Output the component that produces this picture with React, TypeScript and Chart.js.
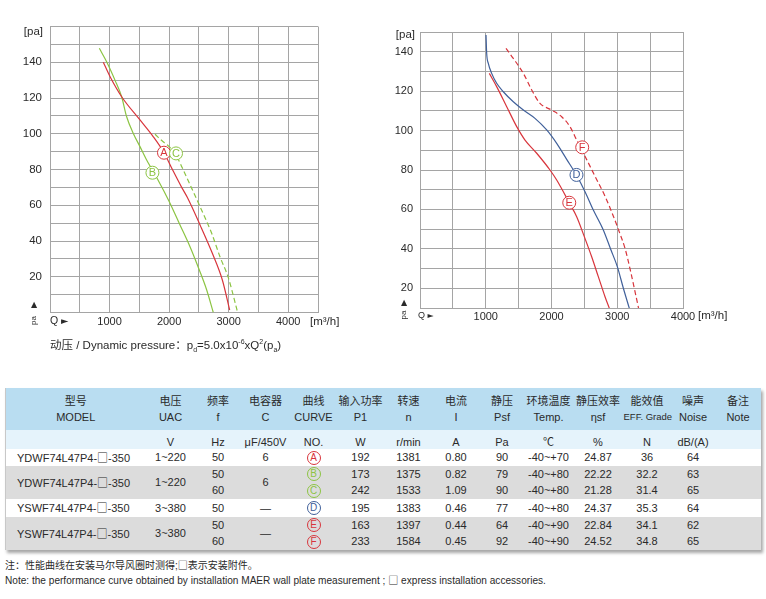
import React, { useEffect, useRef } from 'react';
import { Chart, registerables } from 'chart.js';

Chart.register(...registerables);

const RED = '#d8353c';
const GREEN = '#8cc443';
const BLUE = '#40609a';
const GRID = '#a5a5a5';
const TXT = '#2a2a2a';
const FONT = '"Liberation Sans", Arial, "Noto Sans CJK SC", sans-serif';

// ---------- Left chart (curves A, B, C) : [Q m3/h, p Pa] ----------
const curveA = [[895, 140], [1007, 132], [1203, 120.7], [1511, 107.7], [1735, 98.3], [1914, 89.4], [2060, 79.7], [2211, 70], [2307, 64.3], [2519, 49], [2726, 33.1], [2894, 18.2], [3017, 1.4]];
const curveB = [[828, 147.8], [951, 140.3], [1091, 130], [1203, 120.7], [1287, 109.5], [1399, 100.2], [1511, 92.8], [1623, 85.3], [1800, 75], [2003, 62], [2183, 49], [2351, 36.8], [2507, 23.8], [2631, 12.6], [2742, 0]];
const curveC = [[1763, 99.7], [1900, 95.5], [1987, 93.2], [2116, 88], [2238, 79.7], [2507, 60.1], [2715, 44.3], [2854, 31.2], [2994, 19.5], [3151, 0]];
const leftMarks = [
  { t: 'A', q: 1914, p: 89.4, c: RED },
  { t: 'C', q: 2116, p: 89, c: GREEN },
  { t: 'B', q: 1720, p: 78.2, c: GREEN },
];

// ---------- Right chart (curves D, E, F) ----------
const curveD = [[1004, 148.5], [1014, 139.2], [1039, 134.1], [1090, 129], [1166, 124], [1267, 119.7], [1419, 114.6], [1572, 110.4], [1749, 106.2], [1927, 100.3], [2079, 93.5], [2231, 85.4], [2383, 77.2], [2510, 69], [2636, 59.7], [2788, 49.6], [2900, 39.8], [3001, 31], [3093, 20], [3184, 9.8]];
const curveE = [[1054, 129], [1166, 122.3], [1319, 112.1], [1471, 102], [1597, 95.2], [1775, 88.5], [1977, 80], [2079, 74.9], [2270, 63.4], [2383, 56.3], [2499, 46.2], [2611, 36], [2712, 25.9], [2814, 15.7], [2880, 9.8]];
const curveF = [[1308, 141.7], [1419, 136.6], [1572, 129], [1699, 120.6], [1825, 113.8], [2003, 110.4], [2155, 107], [2281, 102], [2383, 95.2], [2539, 85], [2665, 76.6], [2817, 66.5], [2944, 56.3], [3020, 49.6], [3122, 39.8], [3198, 29.3], [3325, 9.8]];
const rightMarks = [
  { t: 'F', q: 2467, p: 91.5, c: RED },
  { t: 'D', q: 2380, p: 77.5, c: BLUE },
  { t: 'E', q: 2270, p: 63.4, c: RED },
];

const yTickLabels = [20, 40, 60, 80, 100, 120, 140];
const xTickLabels = [1000, 2000, 3000, 4000];

// ---------- Table data ----------
const headCn = ['型号', '电压', '频率', '电容器', '曲线', '输入功率', '转速', '电流', '静压', '环境温度', '静压效率', '能效值', '噪声', '备注'];
const headEn = ['MODEL', 'UAC', 'f', 'C', 'CURVE', 'P1', 'n', 'I', 'Psf', 'Temp.', 'ηsf', 'EFF. Grade', 'Noise', 'Note'];
const units = ['', 'V', 'Hz', 'μF/450V', 'NO.', 'W', 'r/min', 'A', 'Pa', '℃', '%', 'N', 'dB/(A)', ''];
const colWidths = [140, 50, 45, 50, 46, 48, 48, 47, 45, 48, 51, 47, 45, 45];

const groupModels = ['YDWF74L47P4-□-350', 'YDWF74L47P4-□-350', 'YSWF74L47P4-□-350', 'YSWF74L47P4-□-350'];
const groupVoltage = ['1~220', '1~220', '3~380', '3~380'];
const groupCap = ['6', '6', '—', '—'];
const groupSizes = [1, 2, 1, 2];
const freq = ['50', '50', '60', '50', '50', '60'];
const curveNo = ['A', 'B', 'C', 'D', 'E', 'F'];
const curveColor = [RED, GREEN, GREEN, BLUE, RED, RED];
const power = ['192', '173', '242', '195', '163', '233'];
const speed = ['1381', '1375', '1533', '1383', '1397', '1584'];
const current = ['0.80', '0.82', '1.09', '0.46', '0.44', '0.45'];
const pressure = ['90', '79', '90', '77', '64', '92'];
const temp = ['-40~+70', '-40~+80', '-40~+80', '-40~+80', '-40~+90', '-40~+90'];
const effic = ['24.87', '22.22', '21.28', '24.37', '22.84', '24.52'];
const grade = ['36', '32.2', '31.4', '35.3', '34.1', '34.8'];
const noise = ['64', '63', '65', '64', '62', '65'];

const noteCn = '注：性能曲线在安装马尔导风圈时测得;□表示安装附件。';
const noteEn = 'Note: the performance curve obtained by installation MAER wall plate measurement ; □ express installation accessories.';

type Mark = { t: string; q: number; p: number; c: string };
type Deco = {
  marks: Mark[];
  paDx: number; paDy: number;
  unitDx: number; bottomLabelDy: number;
  triDy: number; rotDy: number; qDx: number; qFont: number;
};

function makePlugin(d: Deco) {
  return {
    id: 'deco',
    afterDatasetsDraw(chart: any) {
      const { ctx, scales } = chart;
      ctx.save();
      for (const m of d.marks) {
        const x = scales.x.getPixelForValue(m.q);
        const y = scales.y.getPixelForValue(m.p);
        ctx.beginPath();
        ctx.arc(x, y, 6.5, 0, Math.PI * 2);
        ctx.fillStyle = '#ffffff';
        ctx.fill();
        ctx.lineWidth = 1;
        ctx.strokeStyle = m.c;
        ctx.stroke();
        ctx.fillStyle = m.c;
        ctx.font = '11px ' + FONT;
        ctx.textAlign = 'center';
        ctx.textBaseline = 'middle';
        ctx.fillText(m.t, x, y + 0.5);
      }
      ctx.restore();
    },
    afterDraw(chart: any) {
      const { ctx, chartArea } = chart;
      const { left, right, top, bottom } = chartArea;
      ctx.save();
      ctx.fillStyle = TXT;
      ctx.font = '11.5px ' + FONT;
      ctx.textBaseline = 'middle';
      ctx.textAlign = 'right';
      ctx.fillText('[pa]', left - d.paDx, top + d.paDy);
      ctx.textAlign = 'left';
      ctx.fillText('[m³/h]', right + d.unitDx, bottom + d.bottomLabelDy);
      ctx.font = d.qFont + 'px ' + FONT;
      ctx.fillText('Q', left + d.qDx, bottom + d.bottomLabelDy);
      const qw = ctx.measureText('Q ').width;
      ctx.font = (d.qFont - 1) + 'px "DejaVu Sans", sans-serif';
      ctx.fillText('►', left + d.qDx + qw, bottom + d.bottomLabelDy);
      ctx.font = '8px "DejaVu Sans", sans-serif';
      ctx.textAlign = 'center';
      ctx.fillText('▲', left - 16, bottom + d.triDy);
      ctx.translate(left - 16, bottom + d.rotDy);
      ctx.rotate(-Math.PI / 2);
      ctx.font = '8px ' + FONT;
      ctx.fillText('pa', 0, 0);
      ctx.restore();
    },
  };
}

function ds(label: string, pts: number[][], color: string, dashed: boolean) {
  return {
    label,
    data: pts.map(([x, y]) => ({ x, y })),
    borderColor: color,
    borderWidth: 1.2,
    borderDash: dashed ? [5, 3] : [],
    pointRadius: 0,
    cubicInterpolationMode: 'monotone' as const,
    fill: false,
  };
}

function makeConfig(opts: {
  datasets: any[]; xMax: number; yMin: number; yMax: number;
  padTop: number; padRight: number; yWidth: number; xHeight: number;
  yFont: number; xPad: number; yPad: number; deco: Deco;
}) {
  return {
    type: 'line' as const,
    data: { datasets: opts.datasets },
    options: {
      responsive: false,
      animation: false as const,
      events: [],
      layout: { padding: { top: opts.padTop, right: opts.padRight, left: 0, bottom: 0 } },
      plugins: { legend: { display: false }, tooltip: { enabled: false }, title: { display: false } },
      scales: {
        x: {
          type: 'linear' as const,
          min: 0,
          max: opts.xMax,
          grid: { color: GRID, lineWidth: 1, drawTicks: false },
          border: { color: GRID, width: 1 },
          afterFit: (s: any) => { s.height = opts.xHeight; },
          ticks: {
            stepSize: 500,
            autoSkip: false,
            maxRotation: 0,
            padding: opts.xPad,
            color: TXT,
            font: { family: FONT, size: 11 },
            callback: (v: any) => (xTickLabels.includes(Number(v)) ? String(v) : ''),
          },
        },
        y: {
          type: 'linear' as const,
          min: opts.yMin,
          max: opts.yMax,
          grid: { color: GRID, lineWidth: 1, drawTicks: false },
          border: { color: GRID, width: 1 },
          afterFit: (s: any) => { s.width = opts.yWidth; },
          ticks: {
            stepSize: 10,
            autoSkip: false,
            padding: opts.yPad,
            color: TXT,
            font: { family: FONT, size: opts.yFont },
            callback: (v: any) => (yTickLabels.includes(Number(v)) ? String(v) : ''),
          },
        },
      },
    },
    plugins: [makePlugin(opts.deco)],
  };
}

function Circled({ t, c }: { t: string; c: string }) {
  return (
    <span
      style={{
        display: 'inline-block',
        width: 12,
        height: 12,
        border: `1px solid ${c}`,
        borderRadius: '50%',
        color: c,
        fontSize: 10,
        lineHeight: '12px',
        textAlign: 'center',
        verticalAlign: 'middle',
      }}
    >
      {t}
    </span>
  );
}

// renders text with the □ glyph in a CJK font so it has its full size
function WithBox({ text }: { text: string }) {
  const parts = text.split('□');
  return (
    <>
      {parts.map((p, i) => (
        <React.Fragment key={i}>
          {p}
          {i < parts.length - 1 && <span style={{ fontFamily: '"Noto Sans CJK SC", sans-serif' }}>□</span>}
        </React.Fragment>
      ))}
    </>
  );
}

export default function App() {
  const leftRef = useRef<HTMLCanvasElement>(null);
  const rightRef = useRef<HTMLCanvasElement>(null);

  useEffect(() => {
    const left = new Chart(leftRef.current as HTMLCanvasElement, makeConfig({
      datasets: [ds('A', curveA, RED, false), ds('B', curveB, GREEN, false), ds('C', curveC, GREEN, true)],
      xMax: 4500, yMin: 0, yMax: 160,
      padTop: 26.5, padRight: 62, yWidth: 50, xHeight: 47.5, yFont: 11.5, xPad: 3, yPad: 8,
      deco: { marks: leftMarks, paDx: 7, paDy: 5.5, unitDx: -8, bottomLabelDy: 9, triDy: -8, rotDy: 8, qDx: 0, qFont: 10.5 },
    }) as any);
    const right = new Chart(rightRef.current as HTMLCanvasElement, makeConfig({
      datasets: [ds('D', curveD, BLUE, false), ds('E', curveE, RED, false), ds('F', curveF, RED, true)],
      xMax: 4000, yMin: 10, yMax: 150,
      padTop: 32, padRight: 83, yWidth: 40, xHeight: 32, yFont: 11, xPad: 2, yPad: 7,
      deco: { marks: rightMarks, paDx: 5, paDy: 3, unitDx: 15, bottomLabelDy: 8, triDy: -5, rotDy: 7, qDx: -2, qFont: 9 },
    }) as any);
    return () => {
      left.destroy();
      right.destroy();
    };
  }, []);

  const bodyRows: React.ReactNode[] = [];
  let idx = 0;
  groupSizes.forEach((size, g) => {
    const bg = g % 2 === 0 ? '#ffffff' : '#dcdcdc';
    for (let k = 0; k < size; k++) {
      const i = idx + k;
      const h = size === 1 ? (g === 0 ? 17 : 18) : 16.5;
      bodyRows.push(
        <tr key={i} style={{ background: bg, height: h }}>
          {k === 0 && (
            <>
              <td rowSpan={size} style={{ textAlign: 'left', paddingLeft: 11 }}><WithBox text={groupModels[g]} /></td>
              <td rowSpan={size}>{groupVoltage[g]}</td>
            </>
          )}
          <td>{freq[i]}</td>
          {k === 0 && <td rowSpan={size}>{groupCap[g]}</td>}
          <td><Circled t={curveNo[i]} c={curveColor[i]} /></td>
          <td>{power[i]}</td>
          <td>{speed[i]}</td>
          <td>{current[i]}</td>
          <td>{pressure[i]}</td>
          <td>{temp[i]}</td>
          <td>{effic[i]}</td>
          <td>{grade[i]}</td>
          <td>{noise[i]}</td>
          {k === 0 && <td rowSpan={size}></td>}
        </tr>
      );
    }
    idx += size;
  });

  return (
    <div style={{ position: 'absolute', left: 0, top: 0, width: 766, height: 599, background: '#fff', fontFamily: FONT, color: TXT, overflow: 'hidden' }}>
      <style>{`
        .spec td { padding: 0; text-align: center; font-size: 11px; line-height: 1; white-space: nowrap; vertical-align: middle; }
      `}</style>
      <canvas ref={leftRef} width={380} height={360} style={{ position: 'absolute', left: 0, top: 0, width: 380, height: 360 }} />
      <canvas ref={rightRef} width={386} height={340} style={{ position: 'absolute', left: 380, top: 0, width: 386, height: 340 }} />
      <div style={{ position: 'absolute', left: 50, top: 334, fontSize: 11.5, whiteSpace: 'nowrap', lineHeight: '16px' }}>
        动压 / Dynamic pressure：p<sub style={{ fontSize: 7 }}>d</sub>=5.0x10<sup style={{ fontSize: 7 }}>-6</sup>xQ<sup style={{ fontSize: 7 }}>2</sup>(p<sub style={{ fontSize: 7 }}>a</sub>)
      </div>
      <table
        className="spec"
        style={{
          position: 'absolute', left: 5, top: 388, width: 755, borderCollapse: 'collapse', tableLayout: 'fixed',
          boxShadow: '2px 3px 3px rgba(0,0,0,0.35)', borderLeft: '1px solid #c8c8c8',
        }}
      >
        <colgroup>
          {colWidths.map((w, i) => <col key={i} style={{ width: w }} />)}
        </colgroup>
        <tbody>
          <tr style={{ background: '#b9ddf1', height: 21 }}>
            {headCn.map((t, i) => <td key={i} style={{ verticalAlign: 'bottom', paddingBottom: 2 }}>{t}</td>)}
          </tr>
          <tr style={{ background: '#b9ddf1', height: 21 }}>
            {headEn.map((t, i) => (
              <td key={i} style={{ verticalAlign: 'top', paddingTop: 3, fontSize: i === 11 ? 9.5 : 11 }}>{t}</td>
            ))}
          </tr>
          <tr style={{ background: '#e5f3fb', height: 19 }}>
            {units.map((t, i) => <td key={i} style={{ verticalAlign: 'bottom', paddingBottom: 1 }}>{t}</td>)}
          </tr>
          {bodyRows}
        </tbody>
      </table>
      <div style={{ position: 'absolute', left: 5, top: 558, fontSize: 10, whiteSpace: 'nowrap', lineHeight: '14px' }}>
        <WithBox text={noteCn} />
      </div>
      <div style={{ position: 'absolute', left: 5, top: 573, fontSize: 10.1, whiteSpace: 'nowrap', lineHeight: '14px' }}>
        <WithBox text={noteEn} />
      </div>
    </div>
  );
}
